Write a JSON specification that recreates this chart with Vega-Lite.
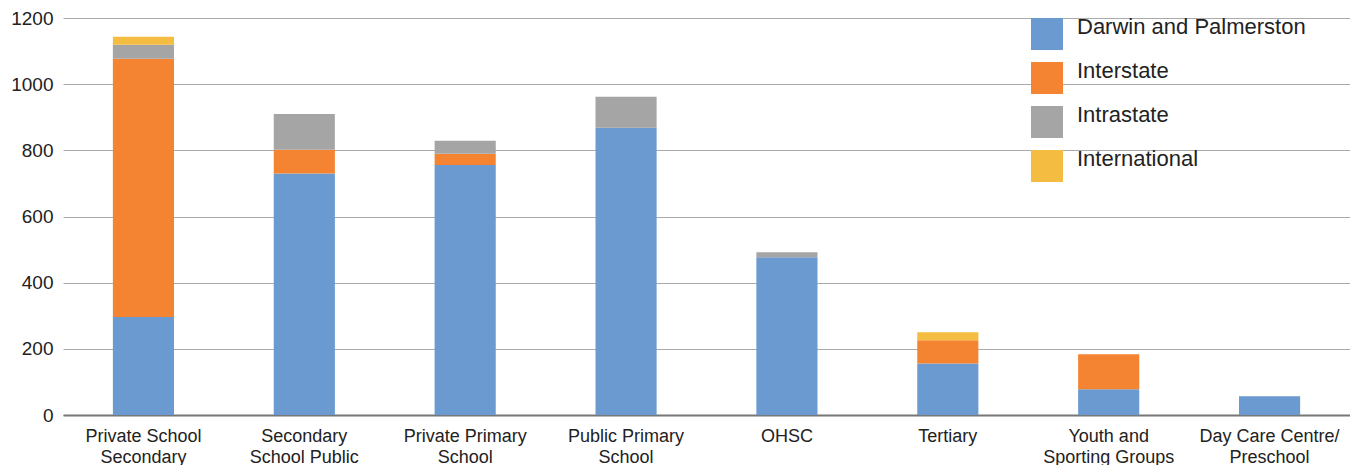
{
  "$schema": "https://vega.github.io/schema/vega-lite/v6.json",
  "width": 1287,
  "height": 397,
  "autosize": {"type": "none"},
  "padding": {"left": 63, "top": 18, "right": 0, "bottom": 50},
  "background": "white",
  "config": {
    "view": {"stroke": null},
    "font": "Liberation Sans",
    "axis": {"labelFont": "Liberation Sans", "labelColor": "#222222"},
    "legend": {"labelFont": "Liberation Sans"}
  },
  "data": {
    "values": [
      {"category": "Private School Secondary", "origin": "Darwin and Palmerston", "value": 296, "ord": 1},
      {"category": "Private School Secondary", "origin": "Interstate", "value": 781, "ord": 2},
      {"category": "Private School Secondary", "origin": "Intrastate", "value": 42, "ord": 3},
      {"category": "Private School Secondary", "origin": "International", "value": 24, "ord": 4},
      {"category": "Secondary School Public", "origin": "Darwin and Palmerston", "value": 730, "ord": 1},
      {"category": "Secondary School Public", "origin": "Interstate", "value": 72, "ord": 2},
      {"category": "Secondary School Public", "origin": "Intrastate", "value": 108, "ord": 3},
      {"category": "Private Primary School", "origin": "Darwin and Palmerston", "value": 756, "ord": 1},
      {"category": "Private Primary School", "origin": "Interstate", "value": 34, "ord": 2},
      {"category": "Private Primary School", "origin": "Intrastate", "value": 39, "ord": 3},
      {"category": "Public Primary School", "origin": "Darwin and Palmerston", "value": 868, "ord": 1},
      {"category": "Public Primary School", "origin": "Intrastate", "value": 94, "ord": 3},
      {"category": "OHSC", "origin": "Darwin and Palmerston", "value": 477, "ord": 1},
      {"category": "OHSC", "origin": "Intrastate", "value": 15, "ord": 3},
      {"category": "Tertiary", "origin": "Darwin and Palmerston", "value": 156, "ord": 1},
      {"category": "Tertiary", "origin": "Interstate", "value": 70, "ord": 2},
      {"category": "Tertiary", "origin": "International", "value": 24, "ord": 4},
      {"category": "Youth and Sporting Groups", "origin": "Darwin and Palmerston", "value": 78, "ord": 1},
      {"category": "Youth and Sporting Groups", "origin": "Interstate", "value": 106, "ord": 2},
      {"category": "Day Care Centre/ Preschool", "origin": "Darwin and Palmerston", "value": 57, "ord": 1}
    ]
  },
  "mark": {"type": "bar"},
  "encoding": {
    "x": {
      "field": "category",
      "type": "nominal",
      "sort": null,
      "scale": {"paddingInner": 0.62, "paddingOuter": 0.31},
      "axis": {
        "title": null,
        "labelAngle": 0,
        "labelFontSize": 18,
        "labelPadding": 12,
        "ticks": false,
        "domainColor": "#777777",
        "domainWidth": 2,
        "labelLineHeight": 21,
        "labelExpr": "datum.value == 'Private School Secondary' ? ['Private School','Secondary'] : datum.value == 'Secondary School Public' ? ['Secondary','School Public'] : datum.value == 'Private Primary School' ? ['Private Primary','School'] : datum.value == 'Public Primary School' ? ['Public Primary','School'] : datum.value == 'Youth and Sporting Groups' ? ['Youth and','Sporting Groups'] : datum.value == 'Day Care Centre/ Preschool' ? ['Day Care Centre/','Preschool'] : datum.value"
      }
    },
    "y": {
      "field": "value",
      "type": "quantitative",
      "stack": "zero",
      "scale": {"domain": [0, 1200], "nice": false},
      "axis": {
        "title": null,
        "format": "d",
        "values": [0, 200, 400, 600, 800, 1000, 1200],
        "labelFontSize": 19,
        "labelPadding": 10,
        "ticks": false,
        "domain": false,
        "gridColor": "#aaaaaa",
        "gridWidth": 1
      }
    },
    "color": {
      "field": "origin",
      "type": "nominal",
      "sort": ["Darwin and Palmerston", "Interstate", "Intrastate", "International"],
      "scale": {
        "domain": ["Darwin and Palmerston", "Interstate", "Intrastate", "International"],
        "range": ["#6a9acf", "#f48431", "#a5a5a5", "#f4bd41"]
      },
      "legend": {
        "title": null,
        "orient": "none",
        "legendX": 968,
        "legendY": 0,
        "symbolType": "square",
        "symbolSize": 1024,
        "symbolStrokeWidth": 0,
        "symbolOpacity": 1,
        "labelFontSize": 22,
        "labelBaseline": "alphabetic",
        "labelColor": "#222222",
        "labelOffset": 14,
        "rowPadding": 10,
        "labelLimit": 400
      }
    },
    "order": {"field": "ord", "type": "quantitative"}
  }
}
